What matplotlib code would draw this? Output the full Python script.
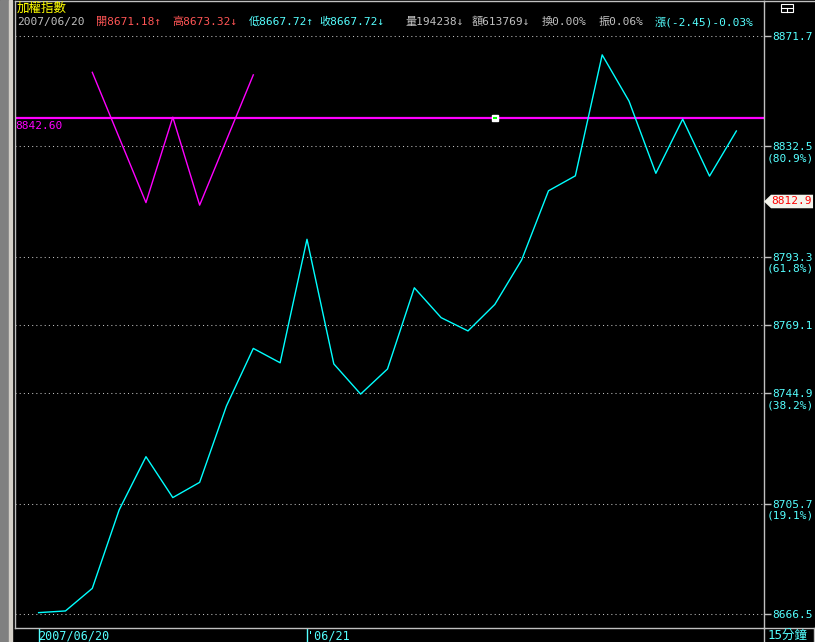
import numpy as np
import matplotlib
matplotlib.use('Agg')
import matplotlib.pyplot as plt
from matplotlib.patches import Rectangle, Polygon
from matplotlib.lines import Line2D

plt.rcParams['font.family'] = ['DejaVu Sans Mono', 'Noto Sans CJK TC']

# 15-minute closes of the index
close = [8667.1, 8667.7, 8675.7, 8703.5, 8722.4, 8707.9, 8713.3, 8740.4, 8760.8,
         8755.7, 8799.5, 8755.3, 8744.6, 8753.5, 8782.3, 8771.7, 8767.0, 8776.4,
         8792.2, 8816.7, 8822.0, 8864.9, 8848.5, 8822.9, 8842.1, 8821.9, 8837.9]

# W pattern drawn by hand on the chart
w_idx = [2, 4, 5, 6, 8]
w_vals = [8858.7, 8812.5, 8842.8, 8811.6, 8857.8]

hline_val = 8842.60
hline_label = '8842.60'
marker_idx = 17

ytick_vals = [8871.7, 8832.5, 8793.3, 8769.1, 8744.9, 8705.7, 8666.5]
ytick_pct = {8832.5: '(80.9%)', 8793.3: '(61.8%)', 8744.9: '(38.2%)', 8705.7: '(19.1%)'}
cursor_val = 8812.9

xtick_idx = [0, 10]
xtick_labels = ['2007/06/20', "'06/21"]

title = '加權指數'
info = [('2007/06/20', '#c0c0c0'), ('開8671.18↑', '#ff5555'), ('高8673.32↓', '#ff5555'),
        ('低8667.72↑', '#55ffff'), ('收8667.72↓', '#55ffff'), ('量194238↓', '#c0c0c0'),
        ('額613769↓', '#c0c0c0'), ('換0.00%', '#c0c0c0'), ('振0.06%', '#c0c0c0'),
        ('漲(-2.45)-0.03%', '#55ffff')]
info_x = [17, 96, 172, 249, 319, 405, 472, 542, 599, 655]

W, H = 815, 642
CYAN = '#55ffff'
GRID = '#c0c0c0'

def fx(px):
    return px / W

def fy(py):
    return 1 - py / H

fig = plt.figure(figsize=(W / 100, H / 100), dpi=100, facecolor='black')

# left grey window strip
fig.patches.append(Rectangle((0, 0), fx(9), 1, transform=fig.transFigure, color='#808080', zorder=0))
fig.patches.append(Rectangle((fx(9), 0), fx(3), 1, transform=fig.transFigure, color='#d4d0c8', zorder=0))

ax = fig.add_axes([fx(15), fy(628), fx(764 - 15), (628 - 1) / H])
ax.set_facecolor('black')
ax.set_xlim(-0.88, 27.03)
ax.set_ylim(8661.65, 8884.0)

for s in ax.spines.values():
    s.set_color(GRID)
    s.set_linewidth(1)

# dotted grid
for v in ytick_vals:
    ax.axhline(v, color=GRID, lw=0.75, ls=(0, (1, 3)), zorder=1)

x = np.arange(len(close))
ax.plot(x, close, color='#00ffff', lw=1.0, zorder=3)
ax.plot(w_idx, w_vals, color='#ff00ff', lw=1.0, zorder=3)
ax.axhline(hline_val, color='#ff00ff', lw=1.6, zorder=2)
ax.plot([marker_idx], [hline_val], marker='s', ms=4.5, mfc='white', mec='white', zorder=4)
ax.plot([marker_idx], [hline_val], marker='_', ms=3, mec='#00ff00', mew=1.5, zorder=5)
ax.text(0.0, hline_val - 1.2, hline_label, transform=ax.get_yaxis_transform(),
        color='#ff00ff', fontsize=8, ha='left', va='top')

# right axis
ax.yaxis.tick_right()
ax.set_yticks(ytick_vals, labels=[f'{v:.1f}' for v in ytick_vals])
ax.tick_params(axis='y', direction='out', length=5, width=1, color=GRID,
               labelcolor=CYAN, labelsize=8, pad=1)
for v, p in ytick_pct.items():
    ax.text(1.003, v - 4.2, p, transform=ax.get_yaxis_transform(), color=CYAN,
            fontsize=8, ha='left', va='center', clip_on=False)

# cursor value box
yt = ax.get_yaxis_transform()
box = Polygon([(1.0, cursor_val), (1.0094, cursor_val + 2.4), (1.0655, cursor_val + 2.4),
               (1.0655, cursor_val - 2.4), (1.0094, cursor_val - 2.4)],
              closed=True, transform=yt, facecolor='#f4f4ec', edgecolor='none', clip_on=False, zorder=6)
ax.add_patch(box)
ax.text(1.0094, cursor_val, f'{cursor_val:.1f}', transform=yt, color='#ff0000', fontsize=8,
        ha='left', va='center', clip_on=False, zorder=7)

# bottom axis
ax.set_xticks(xtick_idx, labels=xtick_labels)
ax.tick_params(axis='x', direction='out', length=13, width=1, color=CYAN,
               labelcolor=CYAN, labelsize=8.5, pad=-12)
for lab in ax.get_xticklabels():
    lab.set_horizontalalignment('left')

# frame lines extending into right panel
fig.add_artist(Line2D([fx(764), fx(815)], [fy(628), fy(628)], color=GRID, lw=1))
fig.add_artist(Line2D([fx(764), fx(815)], [fy(1), fy(1)], color=GRID, lw=1))
fig.add_artist(Line2D([fx(764), fx(764)], [fy(628), 0], color=GRID, lw=1))
fig.add_artist(Line2D([fx(813.5), fx(813.5)], [fy(628), 0], color=GRID, lw=1))
fig.text(fx(768), fy(635), '15分鐘', color=CYAN, fontsize=9, ha='left', va='center')

# window icon top right
fig.patches.append(Rectangle((fx(781), fy(12)), fx(12), 8 / H, transform=fig.transFigure,
                             fill=False, edgecolor='white', lw=0.8))
fig.add_artist(Line2D([fx(781), fx(793)], [fy(8), fy(8)], color='white', lw=0.8))
fig.add_artist(Line2D([fx(787), fx(787)], [fy(8), fy(12)], color='white', lw=0.8))

# header
fig.text(fx(17), fy(8), title, color='#ffff00', fontsize=9, ha='left', va='center')
for px, (t, c) in zip(info_x, info):
    fig.text(fx(px), fy(22), t, color=c, fontsize=8, ha='left', va='center')

fig.savefig('out.png', dpi=100, facecolor='black')
